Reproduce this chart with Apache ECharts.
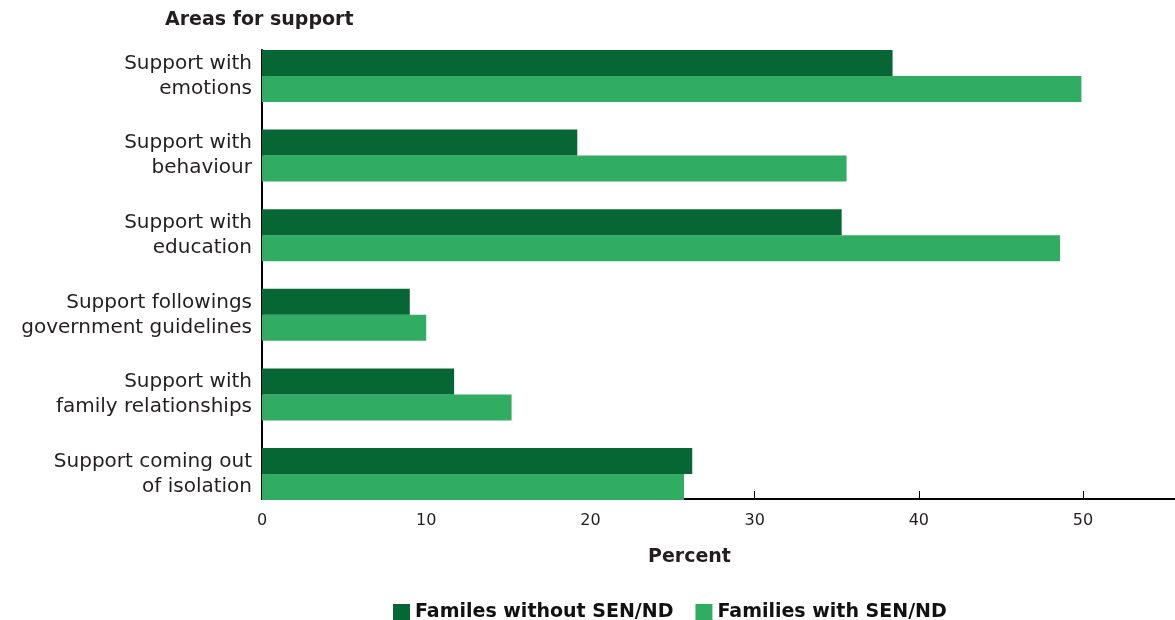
<!DOCTYPE html>
<html>
<head>
<meta charset="utf-8">
<script src="https://cdn.jsdelivr.net/npm/echarts@6/dist/echarts.min.js"></script>
<style>
html,body{margin:0;padding:0;background:#fff;}
#chart{width:1175px;height:620px;}
</style>
</head>
<body>
<div id="chart"></div>
<script>
const categories = [
  "Support with\nemotions",
  "Support with\nbehaviour",
  "Support with\neducation",
  "Support followings\ngovernment guidelines",
  "Support with\nfamily relationships",
  "Support coming out\nof isolation"
];
const seriesNames = ["Familes without SEN/ND", "Families with SEN/ND"];
const withoutSEN = [38.4, 19.2, 35.3, 9.0, 11.7, 26.2];
const withSEN = [49.9, 35.6, 48.6, 10.0, 15.2, 25.7];
const xTicks = [0, 10, 20, 30, 40, 50];

const FONT = "DejaVu Sans";
const TXT = "#231f20";
const XMAX = 55.6;

const chart = echarts.init(document.getElementById('chart'), null, {renderer: 'canvas'});
chart.setOption({
  animation: false,
  backgroundColor: '#fff',
  textStyle: {fontFamily: FONT},
  title: [
    {text: "Areas for support", left: 160, top: 6,
     textStyle: {fontFamily: FONT, fontSize: 19, fontWeight: 'bold', color: TXT}},
    {text: "Percent", left: 643, top: 543,
     textStyle: {fontFamily: FONT, fontSize: 19, fontWeight: 'bold', color: TXT}}
  ],
  legend: {
    data: seriesNames,
    left: 388, top: 598,
    icon: 'rect', itemWidth: 17, itemHeight: 17, itemGap: 22, itemStyle: {borderWidth: 0},
    textStyle: {fontFamily: FONT, fontSize: 19, fontWeight: 600, color: '#111'}
  },
  grid: [
    {left: 262, right: 0, top: 36.2, bottom: 106.2, containLabel: false},
    {left: 262, right: 0, top: 50, bottom: 121, containLabel: false}
  ],
  xAxis: [
    {type: 'value', gridIndex: 0, min: 0, max: XMAX, show: false},
    {type: 'value', gridIndex: 1, min: 0, max: XMAX, interval: 10,
     axisLine: {show: true, lineStyle: {color: '#000', width: 2}},
     axisTick: {show: true, inside: true, length: 8, customValues: xTicks, lineStyle: {color: '#000', width: 1}},
     splitLine: {show: false},
     axisLabel: {margin: 14, fontSize: 16, color: TXT, fontFamily: FONT, customValues: xTicks}
    }
  ],
  yAxis: [
    {type: 'category', gridIndex: 0, data: categories, inverse: true,
     axisLine: {show: false}, axisTick: {show: false},
     axisLabel: {margin: 10, fontSize: 20, lineHeight: 25, color: TXT, fontFamily: FONT, align: 'right'}},
    {type: 'category', gridIndex: 1, data: [''],
     axisLine: {show: true, lineStyle: {color: '#000', width: 2}},
     axisTick: {show: false}, axisLabel: {show: false}}
  ],
  series: [
    {name: seriesNames[0], type: 'bar', xAxisIndex: 0, yAxisIndex: 0,
     data: withoutSEN, barWidth: 26, barGap: '0%',
     itemStyle: {color: '#076734'}, z: 3},
    {name: seriesNames[1], type: 'bar', xAxisIndex: 0, yAxisIndex: 0,
     data: withSEN, barWidth: 26, barGap: '0%',
     itemStyle: {color: '#31ac63'}, z: 2}
  ]
});
</script>
</body>
</html>
